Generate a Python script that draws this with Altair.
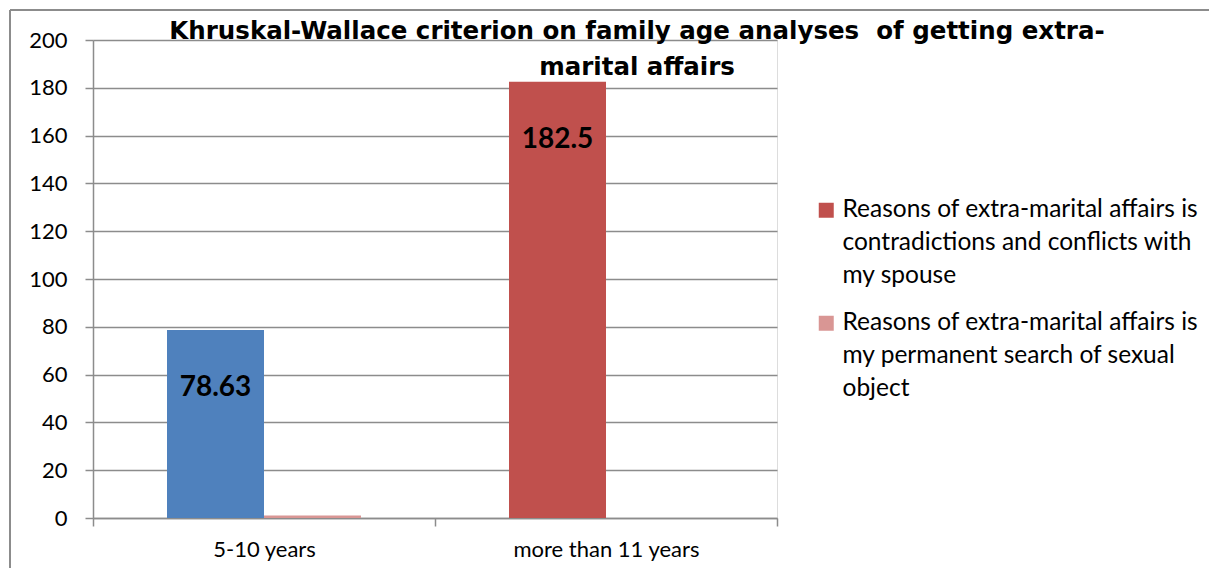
import json
import altair as alt
import pandas as pd

categories = ["5-10 years", "more than 11 years"]
series_names = [
    "Reasons of extra-marital affairs is contradictions and conflicts with my spouse",
    "Reasons of extra-marital affairs is my permanent search of sexual object",
]
series_lines = [
    ["Reasons of extra-marital affairs is", "contradictions and conflicts with", "my spouse"],
    ["Reasons of extra-marital affairs is", "my permanent search of sexual", "object"],
]
series1_values = [78.63, 182.5]
series2_values = [1.0, 0.0]
# colour key per point (first point of series 1 is drawn in blue in the original)
series1_colors = ["highlight", series_names[0]]
series2_colors = [series_names[1], series_names[1]]
title_lines = ["Khruskal-Wallace criterion on family age analyses\u00a0 of getting extra-", "marital affairs"]

rows = []
for i, c in enumerate(categories):
    rows.append({"category": c, "series": series_names[0], "value": series1_values[i], "ckey": series1_colors[i], "label": f"{series1_values[i]:g}"})
    rows.append({"category": c, "series": series_names[1], "value": series2_values[i], "ckey": series2_colors[i], "label": ""})
df = pd.DataFrame(rows)

FONT = "Lato"
GRID = "#8c8c8c"

label_expr = (
    f"datum.label == {json.dumps(series_names[0])} ? {json.dumps(series_lines[0])} : "
    f"{json.dumps(series_lines[1])}"
)

x_enc = alt.X("category:N", sort=categories, title=None,
              scale=alt.Scale(paddingInner=0, paddingOuter=0),
              axis=alt.Axis(labelAngle=0, tickBand="extent", domainColor=GRID, tickColor=GRID,
                            domainWidth=1.5, tickWidth=1.5, tickSize=8, labelPadding=13,
                            labelFont=FONT, labelFontSize=22, labelColor="black", grid=False,
                            labelLimit=0))
y_enc = alt.Y("value:Q", title=None,
              scale=alt.Scale(domain=[0, 200], nice=False),
              axis=alt.Axis(values=list(range(0, 201, 20)), grid=True, gridColor=GRID, gridWidth=1.5,
                            domainColor=GRID, domainWidth=1.5, tickColor=GRID, tickWidth=1.5,
                            tickSize=8, labelPadding=18, labelFont=FONT, labelFontSize=22,
                            labelColor="black"))
xoff_enc = alt.XOffset("series:N", sort=series_names,
                       scale=alt.Scale(paddingInner=0, paddingOuter=0.763))

base = alt.Chart(df)

bars = base.mark_bar().encode(
    x=x_enc,
    xOffset=xoff_enc,
    y=y_enc,
    color=alt.Color("ckey:N",
                    scale=alt.Scale(domain=[series_names[0], series_names[1], "highlight"],
                                    range=["#C0504D", "#D99694", "#4F81BD"]),
                    legend=alt.Legend(values=series_names, title=None, orient="none",
                                      legendX=721, legendY=158, symbolType="square",
                                      symbolSize=225, symbolStrokeWidth=0, labelFont=FONT,
                                      labelFontSize=24.5, labelColor="black", labelLimit=0,
                                      labelOffset=4, labelExpr=label_expr, rowPadding=22,
                                      labelBaseline="middle")),
)

texts = base.transform_filter(alt.datum.label != "").mark_text(
    fontWeight="bold", fontSize=28, font=FONT, color="black", baseline="middle", dy=58
).encode(
    x=alt.X("category:N", sort=categories),
    xOffset=xoff_enc,
    y="value:Q",
    text="label:N",
)

title_df = pd.DataFrame({"t": [title_lines]})
title = alt.Chart(title_df).mark_text(
    font="DejaVu Sans", fontSize=24.5, fontWeight="bold", color="black", align="center",
    baseline="alphabetic", lineHeight=36
).encode(x=alt.value(544), y=alt.value(-1), text="t")

frame_src = alt.Chart(pd.DataFrame({"k": [0]}))
frame_left = frame_src.mark_rule(color=GRID, strokeWidth=2).encode(
    x=alt.value(-83), y=alt.value(-30), y2=alt.value(528))
frame_top = frame_src.mark_rule(color=GRID, strokeWidth=2).encode(
    x=alt.value(-83), x2=alt.value(1116), y=alt.value(-30))

chart = alt.layer(frame_left, frame_top, bars, texts, title).properties(
    width=684, height=478,
    autosize=alt.AutoSizeParams(type="none"),
    padding={"left": 85, "top": 32, "right": 432, "bottom": 50},
).configure_view(stroke=None).configure(
    style={"guide-label": {"lineHeight": 33}}
)

chart.save("out.html", embed_options={"renderer": "svg", "actions": False})
